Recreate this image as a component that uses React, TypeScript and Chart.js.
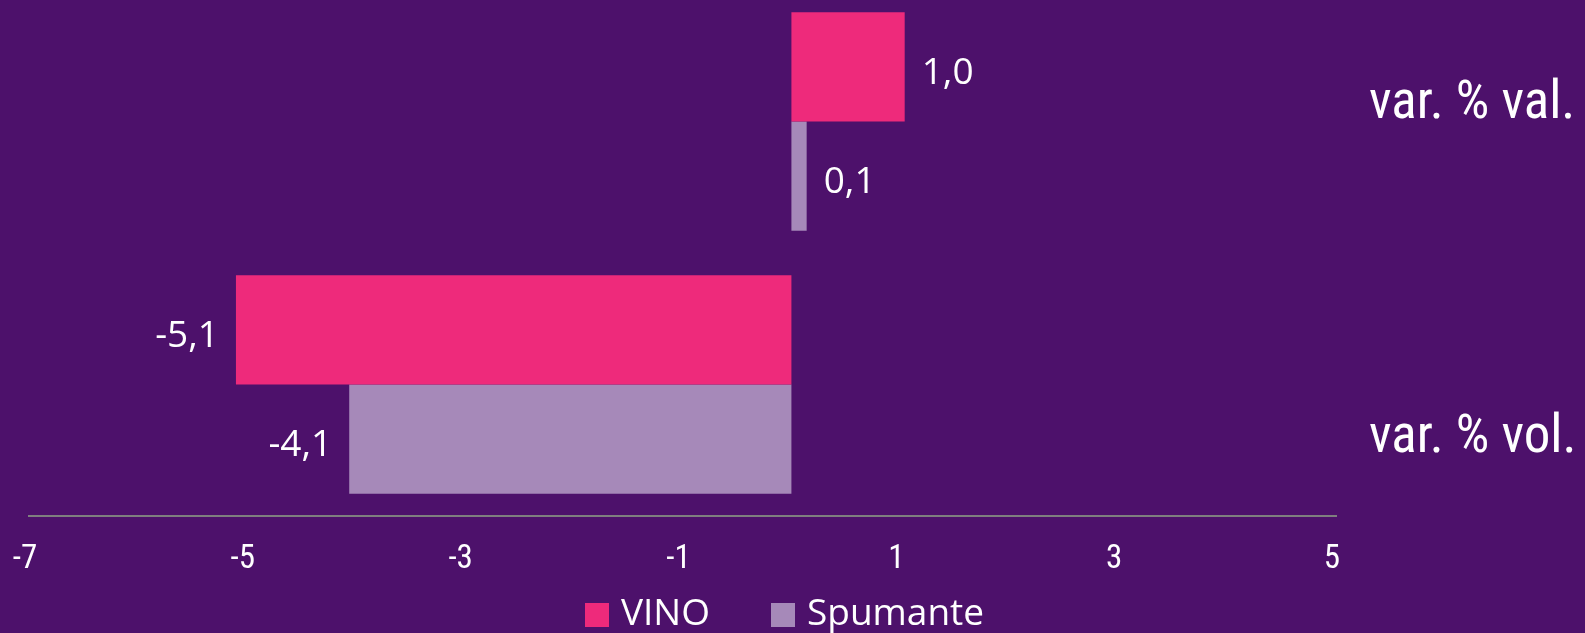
import React, { useEffect, useRef } from "react";
import { Chart, registerables } from "chart.js";

Chart.register(...registerables);

// ---- data ----
const categories = ["var. % val.", "var. % vol."];
const seriesNames = ["VINO", "Spumante"];
const vinoValues = [1.04, -5.1];
const spumanteValues = [0.14, -4.06];
const xMin = -7;
const xMax = 5;
const xStep = 2;

// ---- styles ----
const BG = "#4D116B";
const PINK = "#EE2A7B";
const LAV = "#A689B9";
const AXIS = "#7F7F7F";
const NARROW = "'Roboto Condensed', Roboto, sans-serif";
const SANS = "'Open Sans', 'Noto Sans', sans-serif";

const W = 1585;
const H = 653;

const fmt = (v: number) => v.toFixed(1).replace(".", ",");

const dataLabels = {
  id: "dataLabels",
  afterDatasetsDraw(chart: any) {
    const ctx = chart.ctx;
    ctx.save();
    ctx.font = `normal 37px ${SANS}`;
    ctx.fillStyle = "#FFFFFF";
    ctx.textBaseline = "alphabetic";
    chart.data.datasets.forEach((ds: any, di: number) => {
      const meta = chart.getDatasetMeta(di);
      meta.data.forEach((el: any, i: number) => {
        const v = ds.data[i];
        const { x, y } = el.getProps(["x", "y"], true);
        const txt = fmt(v);
        if (v >= 0) {
          ctx.textAlign = "left";
          ctx.fillText(txt, x + 17, y + 17);
        } else {
          ctx.textAlign = "right";
          ctx.fillText(txt, x - 17, y + 17);
        }
      });
    });
    ctx.restore();
  },
};

function swatch(color: string) {
  const c = document.createElement("canvas");
  c.width = 24;
  c.height = 24;
  const g = c.getContext("2d")!;
  g.fillStyle = color;
  g.fillRect(0, 0, 24, 24);
  return c;
}

export default function App() {
  const ref = useRef<HTMLCanvasElement | null>(null);

  useEffect(() => {
    if (!ref.current) return;
    const swatches = [swatch(PINK), swatch(LAV)];
    const chart = new Chart(ref.current, {
      type: "bar",
      data: {
        labels: categories,
        datasets: [
          {
            label: seriesNames[0],
            data: vinoValues,
            backgroundColor: PINK,
            borderWidth: 0,
            categoryPercentage: 0.8315,
            barPercentage: 1.0,
          },
          {
            label: seriesNames[1],
            data: spumanteValues,
            backgroundColor: LAV,
            borderWidth: 0,
            categoryPercentage: 0.8315,
            barPercentage: 1.0,
          },
        ],
      },
      options: {
        indexAxis: "y",
        animation: false,
        responsive: false,
        maintainAspectRatio: false,
        devicePixelRatio: 1,
        layout: { padding: { top: 0, bottom: 0, left: 29, right: 37.5 } },
        plugins: {
          tooltip: { enabled: false },
          legend: {
            display: true,
            position: "bottom",
            align: "center",
            labels: {
              color: "#FFFFFF",
              usePointStyle: true,
              pointStyleWidth: 10,
              boxHeight: 24,
              padding: 68.5,
              font: { family: SANS, size: 37 },
              generateLabels: (ch: any) => {
                const items = Chart.defaults.plugins.legend.labels.generateLabels(ch);
                items.forEach((it: any, i: number) => {
                  it.pointStyle = swatches[i];
                });
                return items;
              },
            },
          },
        },
        scales: {
          x: {
            type: "linear",
            min: xMin,
            max: xMax,
            grid: { display: false, drawTicks: false },
            border: { display: true, color: AXIS, width: 2 },
            ticks: {
              stepSize: xStep,
              color: "#FFFFFF",
              font: { family: NARROW, size: 33 },
              padding: 24,
              labelOffset: -4,
              maxRotation: 0,
              autoSkip: false,
            },
            afterFit: (s: any) => {
              s.height = 11.5;
              s.paddingLeft = 0;
              s.paddingRight = 0;
              s._computeLabelArea = () => undefined;
            },
          },
          y: {
            type: "category",
            position: "right",
            grid: { display: false, drawTicks: false },
            border: { display: false },
            ticks: {
              color: "#FFFFFF",
              font: { family: NARROW, size: 53, lineHeight: 1.351 },
              crossAlign: "near",
              padding: 33,
              labelOffset: 18.7,
              callback: (_v: any, i: number) =>
                i === 0 ? [categories[i], ""] : ["", categories[i]],
            },
            afterFit: (s: any) => {
              s.width = 211.5;
              s.paddingTop = 0;
              s.paddingBottom = 0;
              s._computeLabelArea = () => undefined;
            },
          },
        },
      },
      plugins: [dataLabels],
    });
    return () => chart.destroy();
  }, []);

  return (
    <div
      style={{
        position: "fixed",
        left: 0,
        top: 0,
        width: W,
        height: 633,
        overflow: "hidden",
        background: BG,
      }}
    >
      <canvas
        ref={ref}
        width={W}
        height={H}
        style={{ position: "absolute", left: 0, top: -10, width: W, height: H, display: "block" }}
      />
    </div>
  );
}
